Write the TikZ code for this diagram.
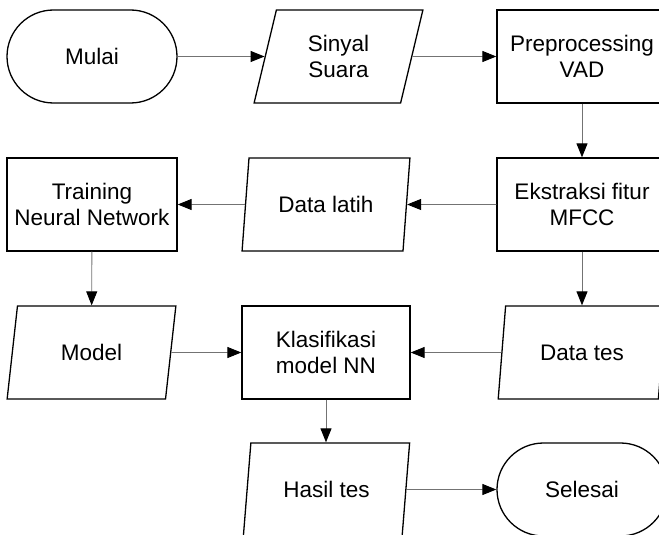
\documentclass[tikz,border=0pt]{standalone}
\usepackage{fontspec}
\setmainfont{Liberation Sans}
\usetikzlibrary{shapes.geometric,arrows.meta}
\tikzset{
  box/.style={draw=black, line width=1.3pt, fill=white, rectangle,
    minimum width=170pt, minimum height=93pt, inner sep=0pt,
    align=center, font=\fontsize{22.5}{26}\selectfont},
  terminal/.style={box, rounded corners=46.5pt},
  io/.style={box, trapezium, trapezium left angle=75.5, trapezium right angle=104.5,
    trapezium stretches=true, minimum width=169pt},
  flow/.style={draw=black!55, line width=0.9pt,
    -{Triangle[length=14pt,width=11pt,color=black]}}
}
\begin{document}
\begin{tikzpicture}[x=1pt,y=-1pt]
  \clip (0,0) rectangle (659,535);
  \useasboundingbox (0,0) rectangle (659,535);
  % first row
  \node[terminal] (mulai) at (92,56.5) {Mulai};
  \node[io] (sinyal) at (338.5,56.5) {Sinyal\\Suara};
  \node[box] (prep) at (582,56.5) {Preprocessing\\VAD};
  % second row
  \node[box] (train) at (92,204.5) {Training\\Neural Network};
  \node[io, minimum width=168pt] (latih) at (326,204.5) {Data latih};
  \node[box] (ekstr) at (582,204.5) {Ekstraksi fitur\\MFCC};
  % third row
  \node[io] (model) at (91.5,352.5) {Model};
  \node[box, minimum width=168pt] (klas) at (326,352.5) {Klasifikasi\\model NN};
  \node[io] (tes) at (582,352.5) {Data tes};
  % fourth row
  \node[io, minimum width=167pt] (hasil) at (326.5,489.5) {Hasil tes};
  \node[terminal] (selesai) at (582,489.5) {Selesai};
  % connectors
  \draw[flow] (mulai) -- (sinyal);
  \draw[flow] (sinyal) -- (prep);
  \draw[flow] (prep) -- (ekstr);
  \draw[flow] (ekstr) -- (latih);
  \draw[flow] (latih) -- (train);
  \draw[flow] (train) -- (model);
  \draw[flow] (ekstr) -- (tes);
  \draw[flow] (model) -- (model -| klas.west);
  \draw[flow] (tes) -- (klas);
  \draw[flow] (klas) -- (klas |- hasil.north);
  \draw[flow] (hasil) -- (selesai);
\end{tikzpicture}
\end{document}
